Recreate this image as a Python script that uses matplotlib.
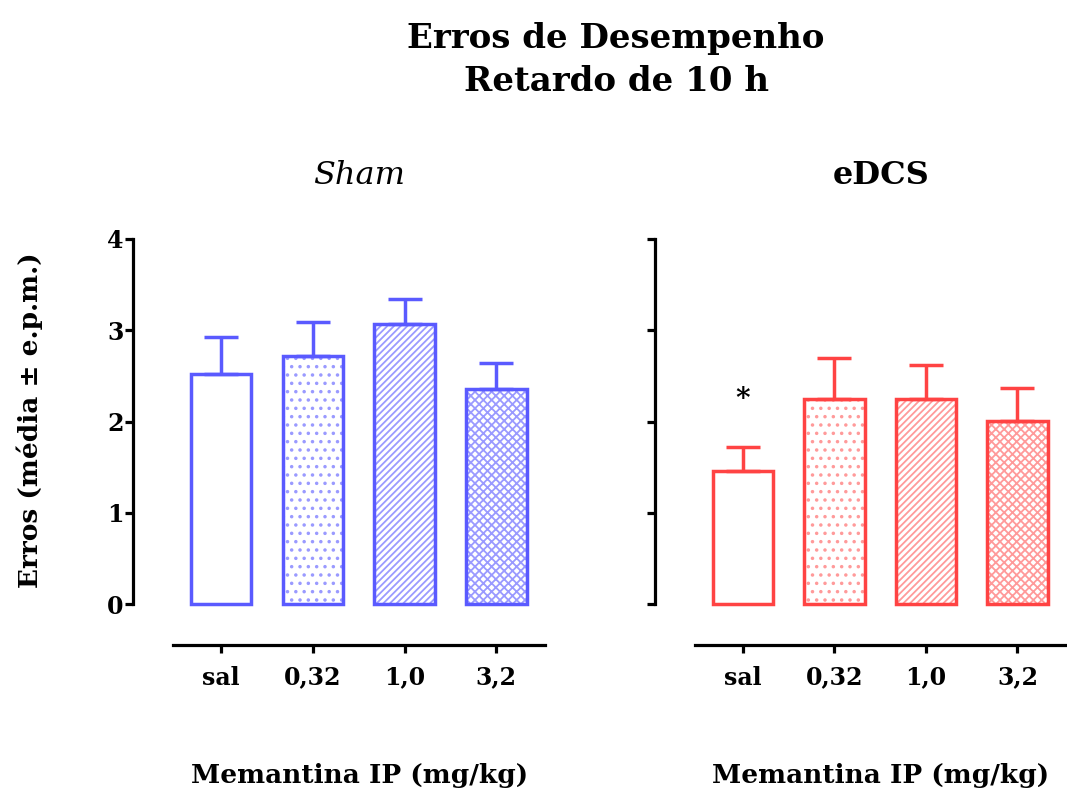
import matplotlib
matplotlib.use("Agg")
import matplotlib.pyplot as plt
import numpy as np

doses = ["sal", "0,32", "1,0", "3,2"]
sham_mean = [2.52, 2.72, 3.07, 2.36]
sham_sem = [0.41, 0.37, 0.27, 0.28]
edcs_mean = [1.46, 2.25, 2.25, 2.01]
edcs_sem = [0.26, 0.45, 0.37, 0.36]
yticks = [0, 1, 2, 3, 4]

hatches = [None, "..", "/////", "xxxx"]
blue = "#5a5aff"
blue_h = "#9a9aff"
red = "#ff4343"
red_h = "#ff9a9a"

plt.rcParams['font.family'] = ['DejaVu Serif']
plt.rcParams['hatch.linewidth'] = 1.3

W, H = 1067, 794
fig = plt.figure(figsize=(W/100, H/100), dpi=100)
axL = fig.add_axes([133/W, 190/H, 412/W, 365/H])
axR = fig.add_axes([655/W, 190/H, 411/W, 365/H])

XMIN, XMAX, XSTART = -0.96, 3.53, -0.52
mid_frac = ((XSTART + XMAX)/2 - XMIN) / (XMAX - XMIN)

def draw(ax, means, sems, col, hcol, title, style):
    x = np.arange(len(means))
    for i in range(len(means)):
        if hatches[i]:
            ax.bar(x[i], means[i], width=0.66, color="white", edgecolor=hcol,
                   hatch=hatches[i], linewidth=0, zorder=2)
        ax.bar(x[i], means[i], width=0.66, color="none", edgecolor=col,
               linewidth=2.5, zorder=3, clip_on=False)
    ax.errorbar(x, means, yerr=[np.zeros(len(sems)), sems], fmt="none",
                ecolor=col, elinewidth=2.5, capsize=12, capthick=2.5, zorder=4)
    ax.set_xlim(XMIN, XMAX)
    ax.set_ylim(0, 4)
    ax.spines['top'].set_visible(False)
    ax.spines['right'].set_visible(False)
    ax.spines['left'].set_linewidth(2.3)
    ax.spines['bottom'].set_linewidth(2.3)
    ax.spines['bottom'].set_position(('outward', 29.5))
    ax.spines['bottom'].set_bounds(XSTART, XMAX)
    ax.set_xticks(x)
    ax.set_xticklabels(doses, fontsize=17, fontweight="bold")
    ax.set_yticks(yticks)
    ax.tick_params(axis='both', width=2.3, length=5.8)
    ax.tick_params(axis='x', pad=9)
    ax.tick_params(axis='y', pad=1)
    ax.text(mid_frac, 1.175, title, transform=ax.transAxes, ha="center", va="center",
            fontsize=23, fontstyle=style,
            fontweight=("normal" if style == "italic" else "bold"))
    ax.text(mid_frac, (H - 775 - 190) / 365, "Memantina IP (mg/kg)", transform=ax.transAxes,
            ha="center", va="center", fontsize=19, fontweight="bold")

draw(axL, sham_mean, sham_sem, blue, blue_h, "Sham", "italic")
draw(axR, edcs_mean, edcs_sem, red, red_h, "eDCS", "normal")

axL.set_yticklabels([str(t) for t in yticks], fontsize=17, fontweight="bold")
axR.set_yticklabels([])
fig.text(30/W, 1 - 420/H, "Erros (média ± e.p.m.)", rotation=90, ha="center", va="center",
         fontsize=19, fontweight="bold")

axR.text(0, edcs_mean[0] + edcs_sem[0] + 0.52, "*", ha="center", va="center",
         fontsize=20, fontweight="bold")

fig.text(616/W, 1 - 60/H, "Erros de Desempenho\nRetardo de 10 h", ha="center", va="center",
         fontsize=24.5, fontweight="bold", linespacing=1.4)

fig.savefig("out.png", dpi=100)
